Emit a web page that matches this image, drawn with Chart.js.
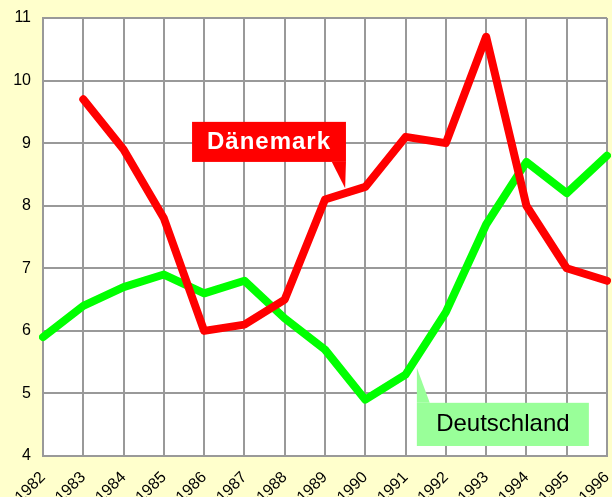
<!DOCTYPE html>
<html>
<head>
<meta charset="utf-8">
<script src="https://cdn.jsdelivr.net/npm/chart.js@4"></script>
<style>
  html, body { margin: 0; padding: 0; background: #ffffcc; }
  #wrap { width: 612px; height: 497px; position: relative; }
</style>
</head>
<body>
<div id="wrap"><canvas id="chart"></canvas></div>
<script>
const years = ["1982", "1983", "1984", "1985", "1986", "1987", "1988", "1989",
  "1990", "1991", "1992", "1993", "1994", "1995", "1996"];
const daenemark = [null, 9.7, 8.9, 7.8, 6.0, 6.1, 6.5, 8.1, 8.3, 9.1, 9.0, 10.7, 8.0, 7.0, 6.8];
const deutschland = [5.9, 6.4, 6.7, 6.9, 6.6, 6.8, 6.2, 5.7, 4.9, 5.3, 6.3, 7.7, 8.7, 8.2, 8.8];
const yTicks = [4, 5, 6, 7, 8, 9, 10, 11];

// callout boxes, in data units (x = year index, y = value)
const callouts = [
  { text: "Dänemark", bg: "#ff0000", color: "#ffffff", font: "bold 24px 'Liberation Sans', Arial, sans-serif", spacing: "1px",
    box: [3.70, 9.34, 7.52, 8.70], tail: [[7.17, 8.70], [7.52, 8.70], [7.50, 8.28]] },
  { text: "Deutschland", bg: "#99ff99", color: "#000000", font: "24px 'Liberation Sans', Arial, sans-serif", spacing: "0px",
    box: [9.28, 4.85, 13.55, 4.16], tail: [[9.28, 4.85], [9.60, 4.85], [9.28, 5.41]] },
];

const calloutPlugin = {
  id: "callouts",
  beforeDraw(chart) {
    const { ctx, chartArea: a } = chart;
    ctx.save();
    ctx.fillStyle = "#ffffff";
    ctx.fillRect(a.left, a.top, a.right - a.left, a.bottom - a.top);
    ctx.restore();
  },
  afterDatasetsDraw(chart) {
    const { ctx, scales } = chart;
    const px = (v) => scales.x.getPixelForValue(v);
    const py = (v) => scales.y.getPixelForValue(v);
    ctx.save();
    callouts.forEach((c) => {
      const [x0, y0, x1, y1] = c.box;
      ctx.fillStyle = c.bg;
      ctx.fillRect(px(x0), py(y0), px(x1) - px(x0), py(y1) - py(y0));
      ctx.beginPath();
      c.tail.forEach(([tx, ty], i) => (i ? ctx.lineTo(px(tx), py(ty)) : ctx.moveTo(px(tx), py(ty))));
      ctx.closePath();
      ctx.fill();
      ctx.fillStyle = c.color;
      ctx.font = c.font;
      ctx.letterSpacing = c.spacing;
      ctx.textAlign = "center";
      ctx.textBaseline = "middle";
      ctx.fillText(c.text, (px(x0) + px(x1)) / 2, (py(y0) + py(y1)) / 2);
    });
    ctx.restore();
  },
};

const tickFont = { family: "'Liberation Sans', Arial, sans-serif", size: 16 };

new Chart(document.getElementById("chart"), {
  type: "line",
  data: {
    labels: years,
    datasets: [
      { label: "Dänemark", data: daenemark, borderColor: "#ff0000", borderWidth: 8,
        pointRadius: 0, tension: 0, borderCapStyle: "round", borderJoinStyle: "round" },
      { label: "Deutschland", data: deutschland, borderColor: "#00ff00", borderWidth: 8,
        pointRadius: 0, tension: 0, borderCapStyle: "round", borderJoinStyle: "round" },
    ],
  },
  options: {
    responsive: true,
    maintainAspectRatio: false,
    animation: false,
    layout: { padding: { top: 18, right: 5, left: 0, bottom: 0 } },
    plugins: { legend: { display: false }, tooltip: { enabled: false } },
    scales: {
      x: {
        offset: false,
        grid: { color: "#999999", lineWidth: 2, drawTicks: false },
        border: { color: "#999999", width: 2 },
        ticks: { autoSkip: false, minRotation: 45, maxRotation: 45, padding: 12, color: "#000", font: tickFont },
        afterFit: (s) => { s.height = 41; s.paddingLeft = 0; s.paddingRight = 0; },
      },
      y: {
        min: 4,
        max: 11,
        afterBuildTicks: (s) => { s.ticks = yTicks.map((v) => ({ value: v })); },
        grid: { color: "#999999", lineWidth: 2, drawTicks: false },
        border: { color: "#999999", width: 2 },
        ticks: { padding: 12, color: "#000", font: tickFont },
        afterFit: (s) => { s.width = 43; s.paddingTop = 0; s.paddingBottom = 0; },
      },
    },
  },
  plugins: [calloutPlugin],
});
</script>
</body>
</html>
